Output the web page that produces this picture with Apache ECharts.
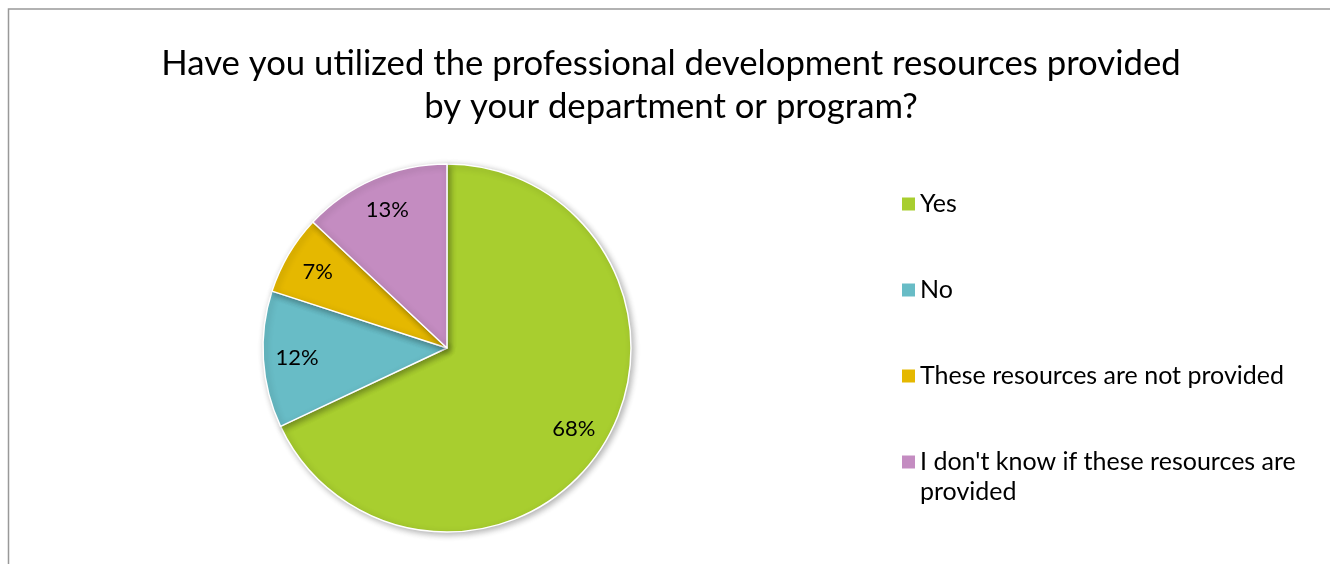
<!DOCTYPE html>
<html>
<head>
<meta charset="utf-8">
<script src="https://cdn.jsdelivr.net/npm/echarts@6/dist/echarts.min.js"></script>
<style>
  html, body { margin: 0; padding: 0; background: #fff; }
  #chart { width: 1330px; height: 564px; }
</style>
</head>
<body>
<div id="chart"></div>
<script>
// Survey answers and their shares (%)
const categories = [
  'Yes',
  'No',
  'These resources are not provided',
  "I don't know if these resources are provided"
];
const shares = [68, 12, 7, 13];
const colors = ['#A8CE2F', '#68BCC6', '#E5B800', '#C48CC1'];
const titleText = 'Have you utilized the professional development resources provided\nby your department or program?';

const FONT = 'Lato, "Open Sans", sans-serif';
const R = 184;

const pieData = categories.map((name, i) => ({
  name,
  value: shares[i],
  itemStyle: { color: colors[i] }
}));

const legendBase = {
  orient: 'vertical',
  left: 902,
  padding: 0,
  height: 500,
  itemWidth: 13,
  itemHeight: 13,
  itemGap: 56,
  icon: 'rect',
  itemStyle: { borderWidth: 0 },
  textStyle: {
    fontFamily: FONT,
    fontSize: 25,
    color: '#000',
    lineHeight: 30
  }
};

const chart = echarts.init(document.getElementById('chart'), null, { renderer: 'canvas' });

chart.setOption({
  backgroundColor: '#ffffff',
  animation: false,
  title: {
    text: titleText,
    left: 666,
    textAlign: 'center',
    top: 37,
    textStyle: {
      fontFamily: FONT,
      fontSize: 34.7,
      fontWeight: 'normal',
      color: '#000',
      lineHeight: 43
    }
  },
  graphic: [{
    type: 'rect',
    shape: { x: 8.5, y: 9, width: 1340, height: 600 },
    style: { fill: 'none', stroke: '#999', lineWidth: 1.5 },
    silent: true
  }],
  legend: [
    Object.assign({}, legendBase, {
      top: 189,
      data: categories.slice(0, 3)
    }),
    // the long answer wraps; a blank leading line keeps its first line level with the swatch
    Object.assign({}, legendBase, {
      top: 417,
      formatter: () => "\nI don't know if these resources are\nprovided",
      data: [categories[3]]
    })
  ],
  series: [
    {
      type: 'pie',
      center: [447, 348],
      radius: [0, R],
      startAngle: 90,
      clockwise: true,
      avoidLabelOverlap: false,
      silent: true,
      label: { show: false },
      labelLine: { show: false },
      itemStyle: {
        borderColor: '#fff',
        borderWidth: 1.5,
        shadowBlur: 6,
        shadowOffsetX: 2,
        shadowOffsetY: 2,
        shadowColor: 'rgba(0,0,0,0.3)'
      },
      data: pieData
    },
    {
      // transparent ring that only carries the percentage labels
      type: 'pie',
      center: [447, 348],
      radius: [R * 0.6, R],
      startAngle: 90,
      clockwise: true,
      avoidLabelOverlap: false,
      silent: true,
      itemStyle: { color: 'rgba(0,0,0,0)', borderWidth: 0 },
      label: {
        show: true,
        position: 'inside',
        formatter: (p) => p.value + '%',
        fontFamily: FONT,
        fontSize: 22,
        color: '#000'
      },
      labelLine: { show: false },
      data: categories.map((name, i) => ({ name, value: shares[i] }))
    }
  ]
});
</script>
</body>
</html>
